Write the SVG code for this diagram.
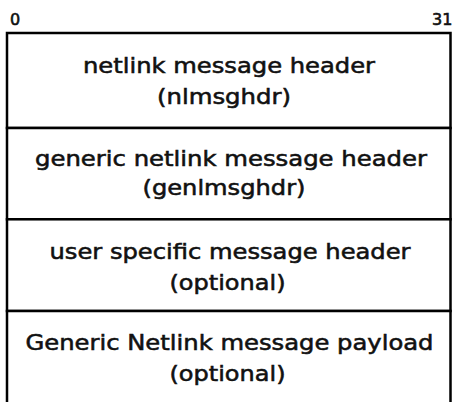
<svg xmlns="http://www.w3.org/2000/svg" width="455" height="402" viewBox="0 0 455 402">
  <style>
    .box { fill: #ffffff; stroke: #000000; stroke-width: 2.5; }
    .lbl { font-family: "DejaVu Sans", "Liberation Sans", sans-serif; font-size: 21px; fill: #111111; stroke: #111111; stroke-width: 0.55px; text-anchor: middle; }
    .bit { font-family: "DejaVu Sans", "Liberation Sans", sans-serif; font-size: 16px; fill: #111111; stroke: #111111; stroke-width: 0.6px; }
  </style>
  <rect x="0" y="0" width="455" height="402" fill="#ffffff"/>
  <g id="bit-labels">
    <text class="bit" x="10" y="25">0</text>
    <text class="bit" x="432" y="24.5">31</text>
  </g>
  <g id="nlmsghdr">
    <rect class="box" x="7" y="33" width="443.5" height="95"/>
    <text class="lbl" x="229" y="73" textLength="292" lengthAdjust="spacingAndGlyphs">netlink message header</text>
    <text class="lbl" x="224" y="104" textLength="134" lengthAdjust="spacingAndGlyphs">(nlmsghdr)</text>
  </g>
  <g id="genlmsghdr">
    <rect class="box" x="7" y="128" width="443.5" height="91.3"/>
    <text class="lbl" x="231" y="166" textLength="392" lengthAdjust="spacingAndGlyphs">generic netlink message header</text>
    <text class="lbl" x="224" y="195" textLength="163" lengthAdjust="spacingAndGlyphs">(genlmsghdr)</text>
  </g>
  <g id="user-header">
    <rect class="box" x="7" y="219.3" width="443.5" height="91.7"/>
    <text class="lbl" x="230" y="259" textLength="361" lengthAdjust="spacingAndGlyphs">user specific message header</text>
    <text class="lbl" x="227.5" y="289.5" textLength="116" lengthAdjust="spacingAndGlyphs">(optional)</text>
  </g>
  <g id="payload">
    <rect class="box" x="7" y="311" width="443.5" height="110"/>
    <text class="lbl" x="229.5" y="350" textLength="408" lengthAdjust="spacingAndGlyphs">Generic Netlink message payload</text>
    <text class="lbl" x="227.5" y="380.5" textLength="116" lengthAdjust="spacingAndGlyphs">(optional)</text>
  </g>
  <g id="connectors"></g>
</svg>
